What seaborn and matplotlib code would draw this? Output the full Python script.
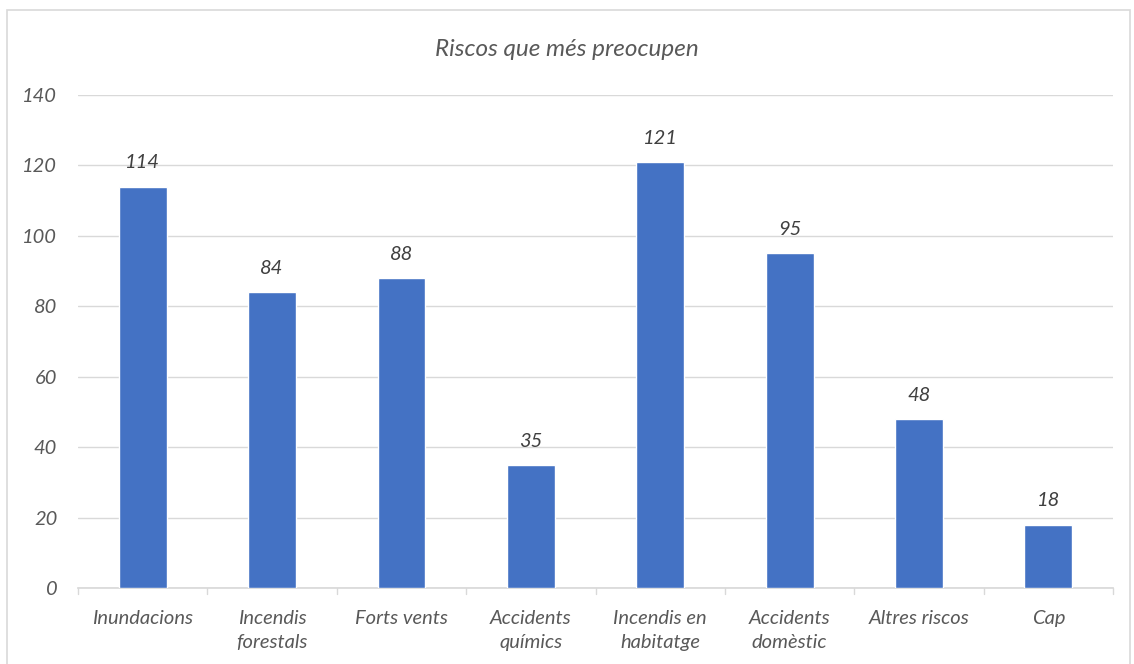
""" Riscos que més preocupen - bar chart """
import pandas as pd
import seaborn as sns
import matplotlib.pyplot as plt
from matplotlib.patches import Rectangle

categories = [
    "Inundacions",
    "Incendis\nforestals",
    "Forts vents",
    "Accidents\nquímics",
    "Incendis en\nhabitatge",
    "Accidents\ndomèstic",
    "Altres riscos",
    "Cap",
]
values = [114, 84, 88, 35, 121, 95, 48, 18]
y_ticks = [0, 20, 40, 60, 80, 100, 120, 140]

df = pd.DataFrame({"risc": categories, "n": values})

sns.set_theme(style="white")
plt.rcParams["font.family"] = ["Lato", "DejaVu Sans"]
text_color = "#595959"
fs = 14.5

fig = plt.figure(figsize=(11.34, 6.64), dpi=100)
ax = fig.add_axes([0.0688, 0.1145, 0.9127, 0.7425])

sns.barplot(data=df, x="risc", y="n", color="#4472C4", width=0.37,
            saturation=1, ax=ax, zorder=3)

# value labels above bars
for i, v in enumerate(values):
    ax.text(i, v + 4.3, str(v), ha="center", va="bottom", style="italic",
            fontsize=fs, color="#404040")

ax.set_ylim(0, 140)
ax.set_xlim(-0.5, len(categories) - 0.5)
ax.set_yticks(y_ticks)
ax.set_yticklabels([str(t) for t in y_ticks], style="italic", fontsize=fs,
                   color=text_color)
ax.set_xticks(range(len(categories)))
ax.set_xticklabels(categories, style="italic", fontsize=fs, color=text_color,
                   linespacing=1.5)
ax.tick_params(axis="x", length=0, pad=16)
ax.tick_params(axis="y", length=0, pad=15)

# category boundary ticks
for b in range(len(categories) + 1):
    ax.plot([b - 0.5, b - 0.5], [0, -1.6], color="#D9D9D9", lw=1,
            clip_on=False, zorder=2)

ax.yaxis.grid(True, color="#D9D9D9", linewidth=1, zorder=0)
for s in ["top", "right", "left"]:
    ax.spines[s].set_visible(False)
ax.spines["bottom"].set_color("#D9D9D9")
ax.set_xlabel("")
ax.set_ylabel("")

fig.text(0.5, 0.926, "Riscos que més preocupen", ha="center", va="center",
         style="italic", fontsize=17.5, color=text_color)

# chart border
fig.patches.append(Rectangle((7 / 1134, -0.01), 1 - 11 / 1134, 1 - 10 / 664 + 0.01,
                             transform=fig.transFigure, fill=False,
                             edgecolor="#D9D9D9", linewidth=1.2))

fig.savefig("out.png", dpi=100)
